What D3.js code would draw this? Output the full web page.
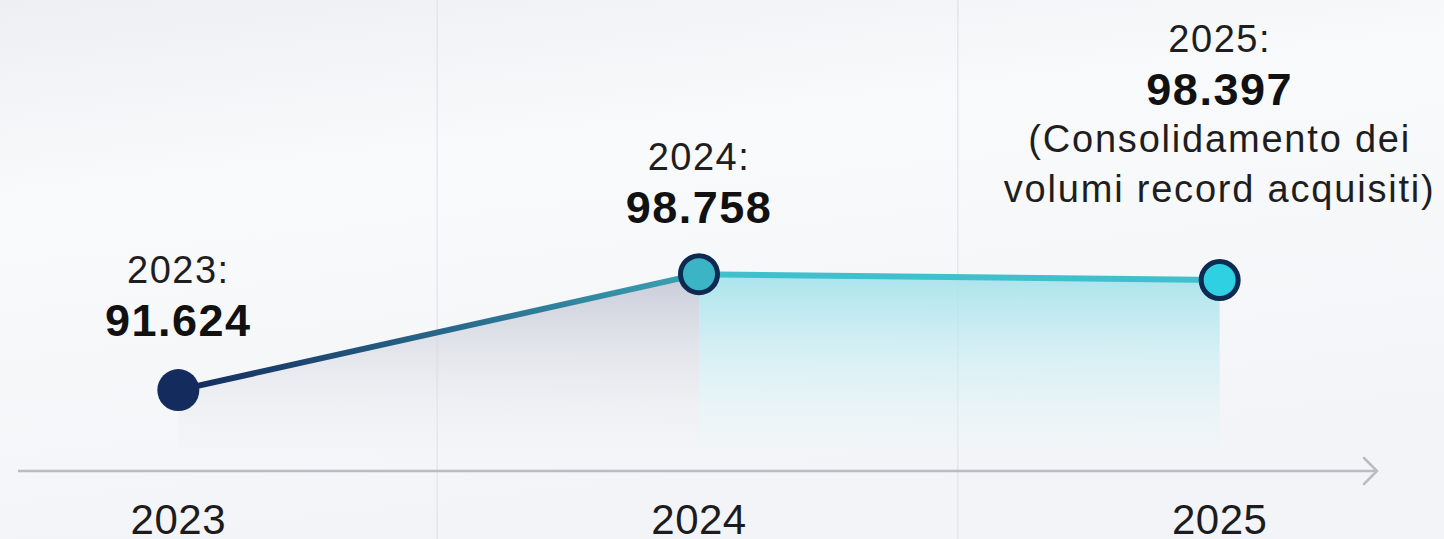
<!DOCTYPE html>
<html><head><meta charset="utf-8">
<script src="https://cdn.jsdelivr.net/npm/d3@7"></script>
<style>
html,body{margin:0;padding:0;background:#f4f5f8;}
svg{display:block;font-family:"Liberation Sans",Arial,sans-serif;}
</style></head>
<body>
<svg id="c" width="1444" height="539"></svg>
<script>
const years = ["2023", "2024", "2025"];
const values = [91624, 98758, 98397];
const valueLabels = ["91.624", "98.758", "98.397"];
const headLabels = ["2023:", "2024:", "2025:"];
const notes = [[], [], ["(Consolidamento dei", "volumi record acquisiti)"]];

const W = 1444, H = 539;
const svg = d3.select("#c");
const defs = svg.append("defs");

// background gradient
const bg = defs.append("linearGradient").attr("id","bg").attr("x1",0).attr("y1",0).attr("x2",0.3).attr("y2",1);
bg.append("stop").attr("offset","0%").attr("stop-color","#eeeff3");
bg.append("stop").attr("offset","35%").attr("stop-color","#f9fafb");
bg.append("stop").attr("offset","100%").attr("stop-color","#f3f4f7");
svg.append("rect").attr("width",W).attr("height",H).attr("fill","url(#bg)");

const x = d3.scaleBand().domain(years).range([-82, 1480]).padding(0);
const cx = d => x(d) + x.bandwidth()/2;
const y = d3.scaleLinear().domain([88000, 100000]).range([449, 254]);
const axisY = 471;

// vertical gridlines at band boundaries
svg.append("g").selectAll("line").data(years.slice(1)).join("line")
  .attr("x1", d => x(d) - 1.5).attr("x2", d => x(d) - 1.5)
  .attr("y1", 0).attr("y2", H)
  .attr("stroke", "#e0e2e7").attr("stroke-width", 1.2);

const pts = years.map((d,i) => ({year:d, v:values[i]}));

// gradients for areas
const g1 = defs.append("linearGradient").attr("id","a1").attr("x1",0).attr("y1",0).attr("x2",0).attr("y2",1);
g1.append("stop").attr("offset","0%").attr("stop-color","#c6c9d6").attr("stop-opacity",0.95);
g1.append("stop").attr("offset","100%").attr("stop-color","#eceef3").attr("stop-opacity",0.15);
const g2 = defs.append("linearGradient").attr("id","a2").attr("x1",0).attr("y1",0).attr("x2",0).attr("y2",1);
g2.append("stop").attr("offset","0%").attr("stop-color","#a6e2eb").attr("stop-opacity",0.95);
g2.append("stop").attr("offset","100%").attr("stop-color","#e8f7f9").attr("stop-opacity",0.25);

const area = d3.area().x(d => cx(d.year)).y0(y(88000)).y1(d => y(d.v));
svg.append("path").datum(pts.slice(0,2)).attr("d", area).attr("fill","url(#a1)");
svg.append("path").datum(pts.slice(1,3)).attr("d", area).attr("fill","url(#a2)");

// line gradient
const lg = defs.append("linearGradient").attr("id","lg").attr("gradientUnits","userSpaceOnUse")
  .attr("x1", cx("2023")).attr("x2", cx("2024")).attr("y1",0).attr("y2",0);
lg.append("stop").attr("offset","0%").attr("stop-color","#132a5c");
lg.append("stop").attr("offset","100%").attr("stop-color","#3aa3b4");
const line = d3.line().x(d => cx(d.year)).y(d => y(d.v));
svg.append("path").datum(pts.slice(0,2)).attr("d", line).attr("fill","none")
  .attr("stroke","url(#lg)").attr("stroke-width",6).attr("stroke-linecap","round");
svg.append("path").datum(pts.slice(1,3)).attr("d", line).attr("fill","none")
  .attr("stroke","#3fc0cc").attr("stroke-width",6);

// axis
svg.append("line").attr("x1",18).attr("x2",1375).attr("y1",axisY).attr("y2",axisY)
  .attr("stroke","#b9bcc4").attr("stroke-width",2.5);
svg.append("path").attr("d", `M1364,${axisY-13} L1377,${axisY} L1364,${axisY+13}`)
  .attr("fill","none").attr("stroke","#b9bcc4").attr("stroke-width",2.5).attr("stroke-linecap","round");
svg.append("g").selectAll("text").data(years).join("text")
  .attr("x", d => cx(d)).attr("y", 534).attr("text-anchor","middle")
  .attr("font-size", 42).attr("letter-spacing", 0.5).attr("fill","#1c1c1e").text(d => d);

// points
const fills = ["#142b5e", "#3bb4c6", "#2fd0e2"];
svg.append("g").selectAll("circle").data(pts).join("circle")
  .attr("cx", d => cx(d.year)).attr("cy", d => y(d.v))
  .attr("r", (d,i) => i === 0 ? 21 : 18.5)
  .attr("fill", (d,i) => fills[i])
  .attr("stroke", "#0f2a52").attr("stroke-width", (d,i) => i === 0 ? 0 : 5);

// labels
const lab = svg.append("g");
const heads = [283, 170, 52];
pts.forEach((d,i) => {
  const X = cx(d.year);
  const base = heads[i];
  lab.append("text").attr("x", X).attr("y", base).attr("text-anchor","middle")
    .attr("font-size", 38).attr("letter-spacing", 1.5).attr("fill","#1e1e20").text(headLabels[i]);
  lab.append("text").attr("x", X).attr("y", base + 53).attr("text-anchor","middle")
    .attr("font-size", 45).attr("font-weight", 700).attr("letter-spacing", 1.5).attr("fill","#111").text(valueLabels[i]);
  notes[i].forEach((t,j) => {
    lab.append("text").attr("x", X).attr("y", base + 100 + j*50).attr("text-anchor","middle")
      .attr("font-size", 38).attr("letter-spacing", 1.8).attr("fill","#1e1e20").text(t);
  });
});
</script>
</body></html>
